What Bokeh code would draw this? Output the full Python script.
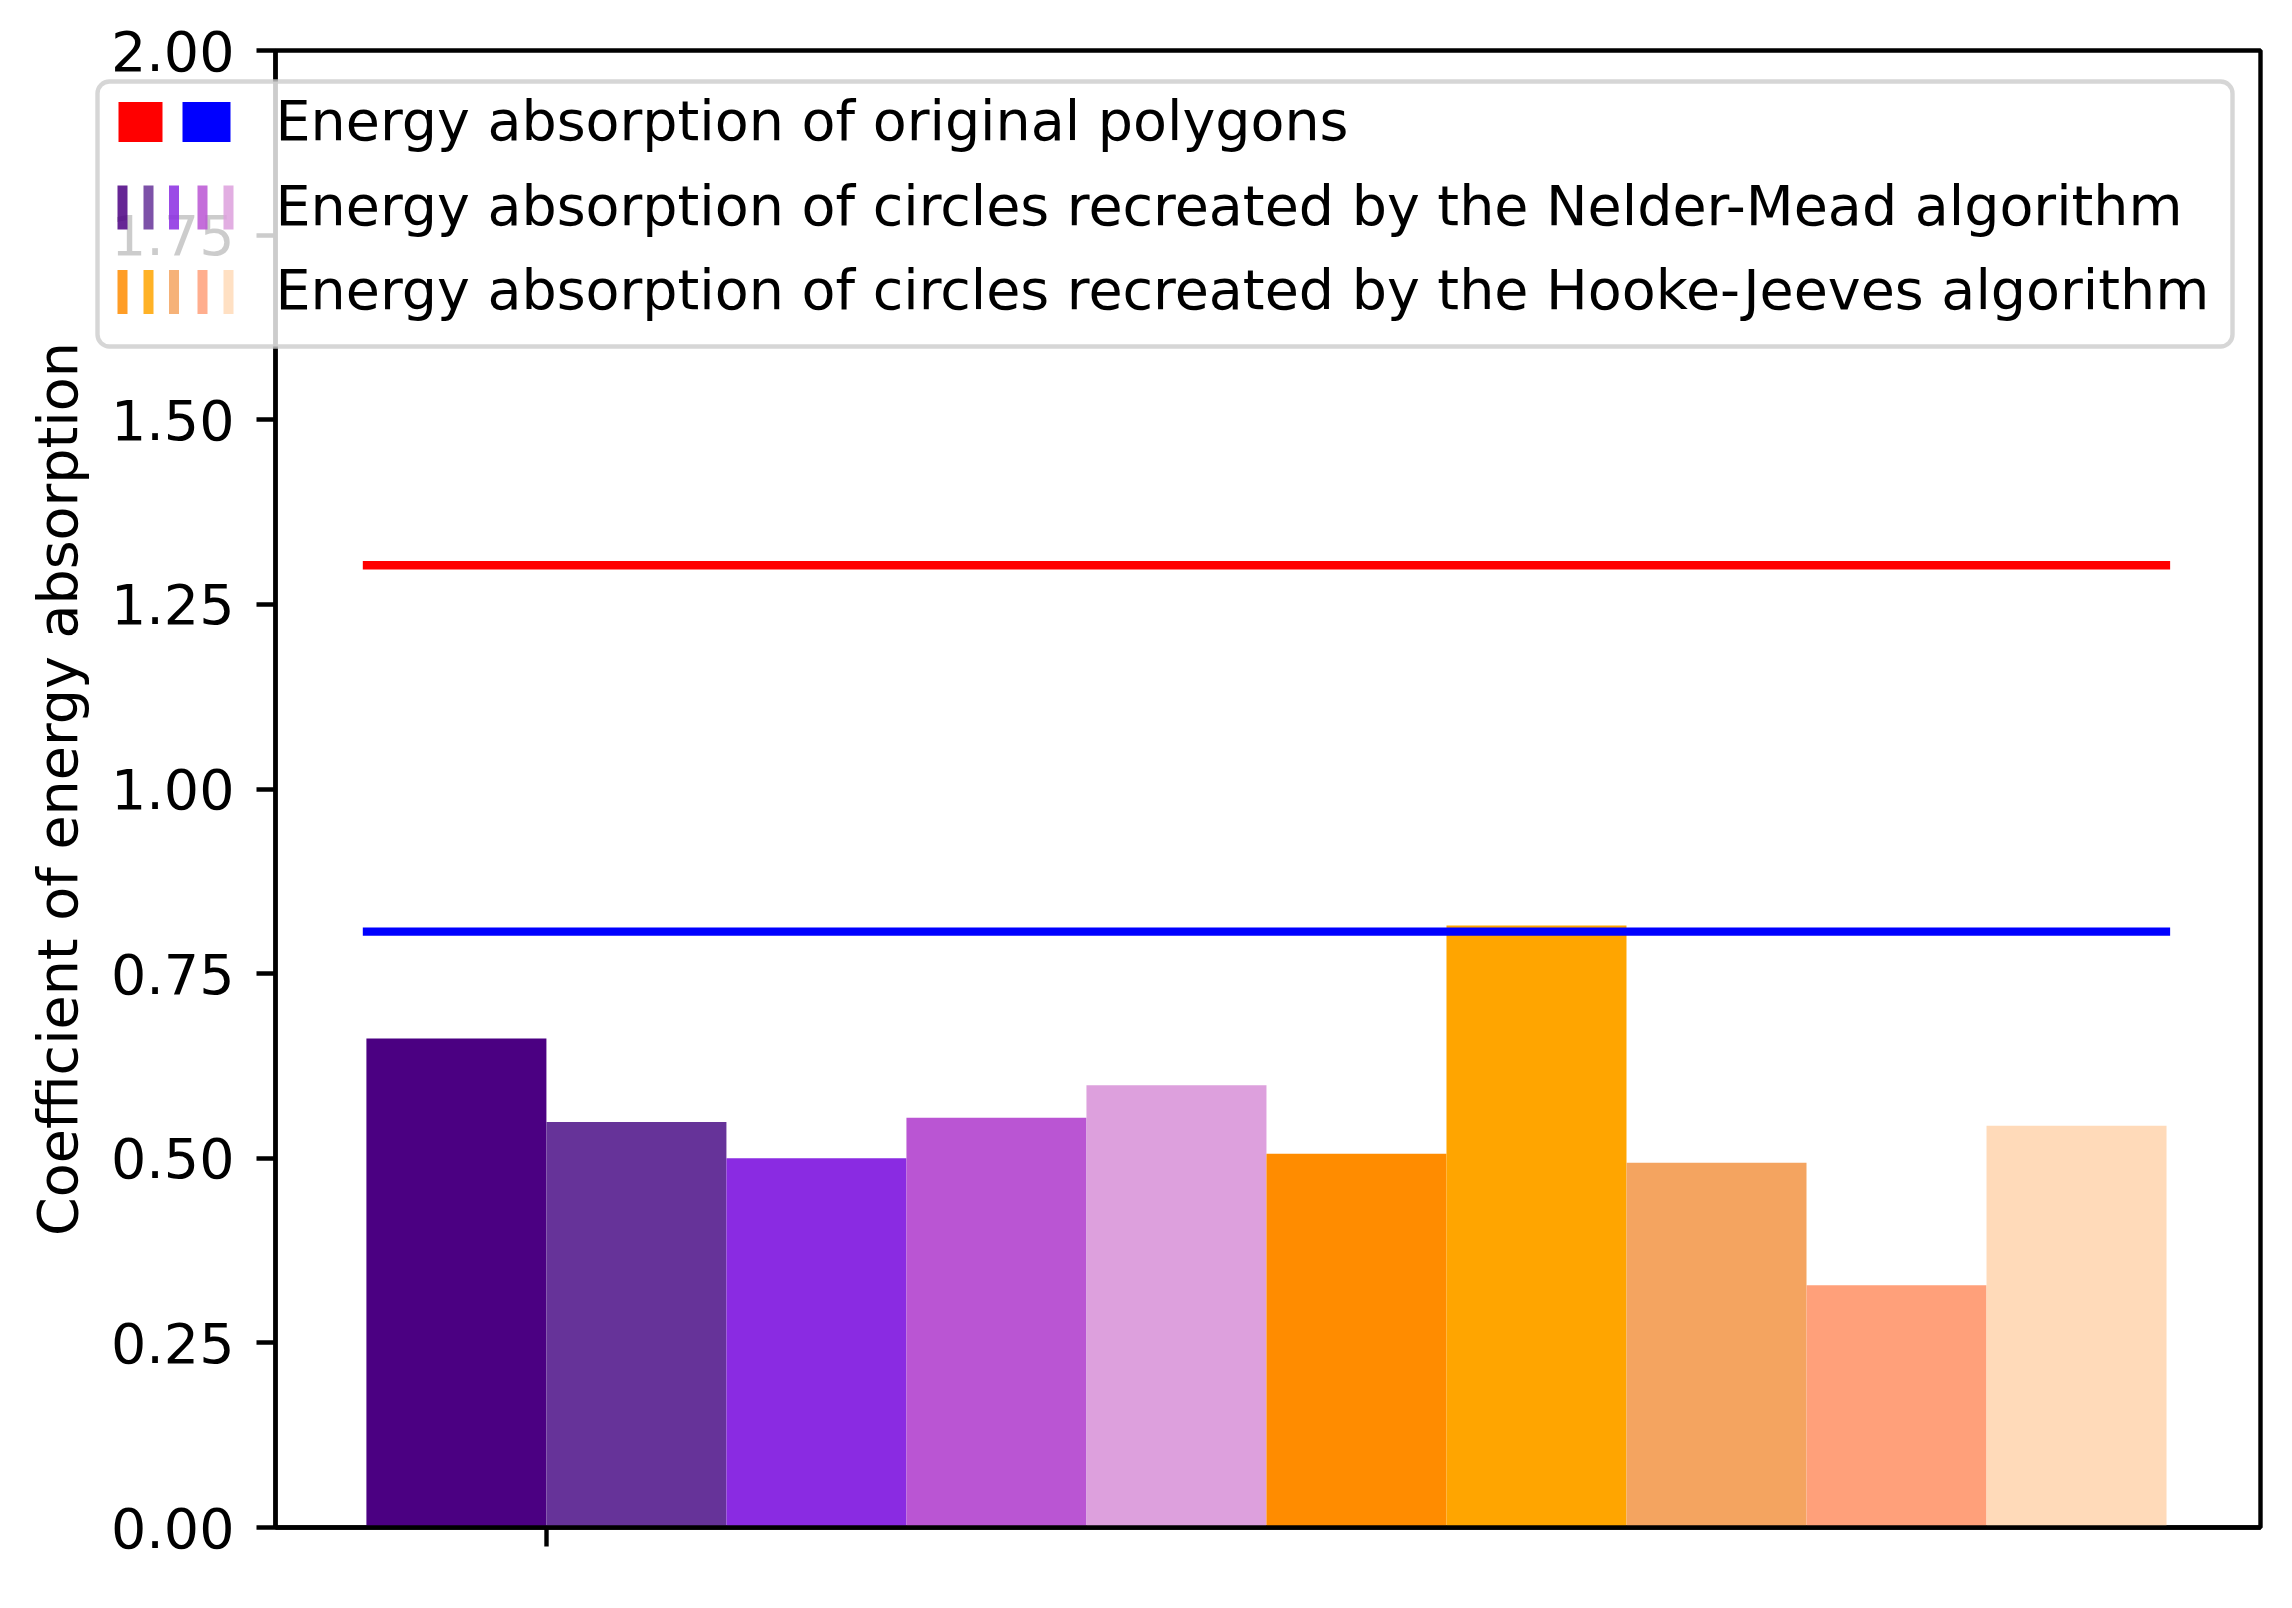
from bokeh.plotting import figure
from bokeh.models import Range1d, FixedTicker, Quad
from bokeh.core.properties import value
from bokeh.embed import file_html
from bokeh.resources import INLINE

# ---- data ----
bar_positions = [0, 1, 2, 3, 4, 5, 6, 7, 8, 9]
bar_values = [0.662, 0.549, 0.500, 0.555, 0.599, 0.506, 0.815, 0.494, 0.328, 0.544]
bar_colors = ["#4B0082", "#663399", "#8A2BE2", "#BA55D3", "#DDA0DD",
              "#FF8C00", "#FFA500", "#F4A460", "#FFA07A", "#FFDAB9"]
line_x = [-0.52, 9.52]
polygon_red = 1.303
polygon_blue = 0.807
y_ticks = [0.0, 0.25, 0.5, 0.75, 1.0, 1.25, 1.5, 1.75, 2.0]
x_ticks = [0.5]
legend_labels = ["Energy absorption of original polygons",
                 "Energy absorption of circles recreated by the Nelder-Mead algorithm",
                 "Energy absorption of circles recreated by the Hooke-Jeeves algorithm"]
purple_colors = bar_colors[:5]
orange_colors = bar_colors[5:]

FONT = "DejaVu Sans"
FS = "55.5px"
X0, X1 = -1.005, 10.022
Y0, Y1 = 0.0, 2.0
FW, FH = 1985, 1477
ML, MT, MR, MB = 275, 50, 24, 73
W, H = ML + FW + MR, MT + FH + MB

p = figure(frame_width=FW, frame_height=FH, x_range=Range1d(X0, X1), y_range=Range1d(Y0, Y1),
           output_backend="svg", toolbar_location=None,
           min_border_left=ML, min_border_top=MT, min_border_right=MR, min_border_bottom=MB)
p.background_fill_color = "white"
p.border_fill_color = "white"
p.xgrid.visible = False
p.ygrid.visible = False
p.outline_line_color = "black"
p.outline_line_width = 4.4

p.vbar(x=bar_positions, top=bar_values, width=1.0, bottom=0, fill_color=bar_colors, line_color=None)
p.line(x=line_x, y=[polygon_red, polygon_red], line_color="red", line_width=8.3)
p.line(x=line_x, y=[polygon_blue, polygon_blue], line_color="blue", line_width=8.3)

for ax in (p.xaxis[0], p.yaxis[0]):
    ax.axis_line_width = 4.4
    ax.major_tick_line_width = 4.4
    ax.major_tick_out = 19
    ax.major_tick_in = 0
    ax.minor_tick_out = 0
    ax.minor_tick_in = 0
    ax.major_label_text_font = FONT
    ax.major_label_text_font_size = FS
    ax.major_label_text_color = "black"

p.yaxis[0].ticker = FixedTicker(ticks=y_ticks)
p.yaxis[0].major_label_overrides = {t: f"{t:.2f}" for t in y_ticks}
p.yaxis[0].major_label_standoff = 22
p.yaxis[0].axis_label = "Coefficient of energy absorption"
p.yaxis[0].axis_label_text_font = FONT
p.yaxis[0].axis_label_text_font_size = FS
p.yaxis[0].axis_label_text_font_style = "normal"
p.yaxis[0].axis_label_text_color = "black"
p.yaxis[0].axis_label_standoff = 18

p.xaxis[0].ticker = FixedTicker(ticks=x_ticks)
p.xaxis[0].major_label_overrides = {x_ticks[0]: ""}

# ---- legend: transparent overlay canvas in page pixels, laid over the chart ----
leg = figure(width=W, height=H, x_range=Range1d(0, W), y_range=Range1d(H, 0),
             output_backend="svg", toolbar_location=None,
             x_axis_location=None, y_axis_location=None, min_border=0,
             min_border_left=0, min_border_right=0, min_border_top=0, min_border_bottom=0,
             styles={"position": "absolute", "left": "0px", "top": "0px", "z-index": "10"})
leg.xgrid.visible = False
leg.ygrid.visible = False
leg.outline_line_color = None
leg.background_fill_color = None
leg.border_fill_color = None

frame_kw = dict(fill_color="white", fill_alpha=0.8, line_color="#cccccc", line_width=4.4, line_alpha=0.8)
if "border_radius" in Quad.properties():
    frame_kw["border_radius"] = 12
leg.quad(left=[97], right=[2232], top=[81], bottom=[346], **frame_kw)

rows = [121.5, 207, 291.5]
text_rows = [119.5, 204.5, 288.5]
# row 1: red and blue squares
leg.quad(left=[118, 182], right=[162, 230], top=[rows[0] - 20] * 2, bottom=[rows[0] + 20] * 2,
         fill_color=["red", "blue"], line_color=None)
centers = [122, 148, 173.5, 202, 228]
for row, cols in zip(rows[1:], [purple_colors, orange_colors]):
    leg.quad(left=[c - 5 for c in centers], right=[c + 5 for c in centers],
             top=[row - 22] * 5, bottom=[row + 22] * 5,
             fill_color=cols, fill_alpha=0.85, line_color=None)

leg.text(x=[275] * 3, y=text_rows, text=legend_labels, text_font=value(FONT), text_font_size=value(FS),
         text_baseline="middle", text_align="left", text_color="black")

open("out.html", "w").write(file_html([p, leg], INLINE))
